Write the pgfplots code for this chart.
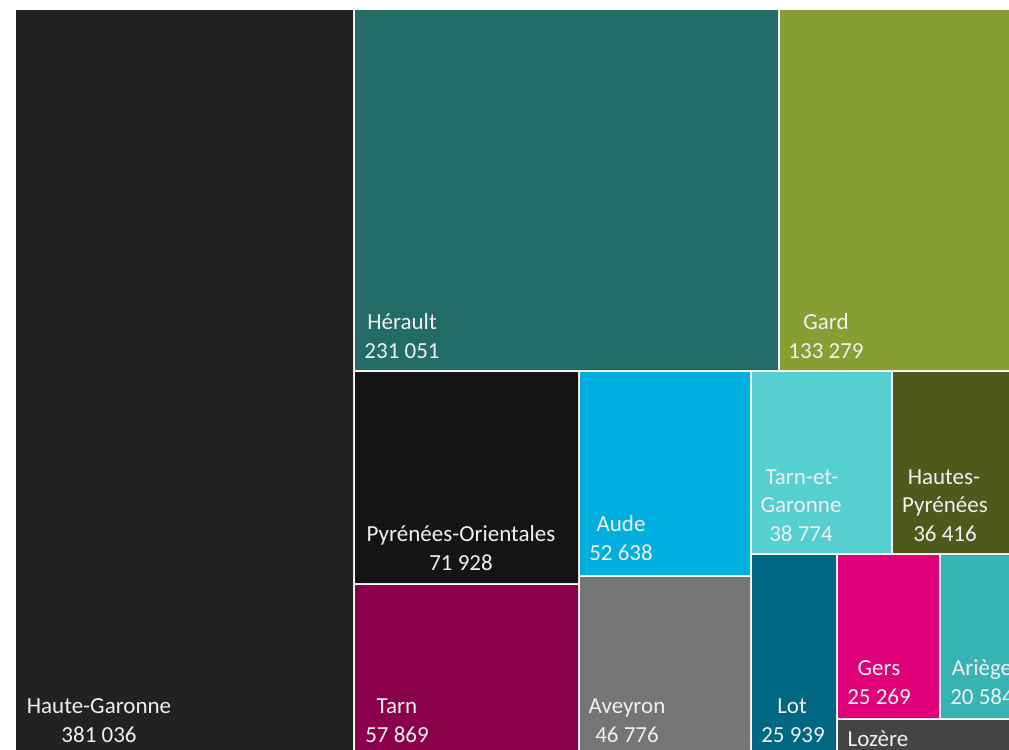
\documentclass[border=0pt]{standalone}
\usepackage{fontspec}
\setmainfont{Carlito}
\usepackage{pgfplots}
\pgfplotsset{compat=1.18}
\definecolor{cHG}{HTML}{222222}
\definecolor{cHE}{HTML}{236B66}
\definecolor{cGA}{HTML}{869E32}
\definecolor{cPO}{HTML}{141414}
\definecolor{cAU}{HTML}{00AEE0}
\definecolor{cTG}{HTML}{55CFCF}
\definecolor{cHP}{HTML}{4E5A1C}
\definecolor{cTA}{HTML}{8A004A}
\definecolor{cAV}{HTML}{757575}
\definecolor{cLO}{HTML}{006782}
\definecolor{cGE}{HTML}{E2007A}
\definecolor{cAR}{HTML}{37B3B3}
\definecolor{cLZ}{HTML}{444444}
\newcommand{\lab}[3]{\node[anchor=base, inner sep=0pt, text=white!94!black,
  font=\fontsize{11.5}{14}\selectfont] at (axis cs:#1,#2) {#3};}

\begin{document}
\begin{tikzpicture}
\begin{axis}[
  scale only axis, width=504.5pt, height=375pt,
  xmin=0, xmax=1009, ymin=0, ymax=750, y dir=reverse,
  hide axis,
  every axis plot/.append style={draw=none},
]
% background
\addplot[fill=white] coordinates {(0,0) (1009,0) (1009,750) (0,750) (0,0)};
% rectangles (pixel positions of the treemap tiles)
\addplot[fill=cHG] coordinates {(16,10) (353,10) (353,750) (16,750) (16,10)};
\addplot[fill=cHE] coordinates {(355,10) (778,10) (778,370) (355,370) (355,10)};
\addplot[fill=cGA] coordinates {(780,10) (1009,10) (1009,370) (780,370) (780,10)};
\addplot[fill=cPO] coordinates {(355,372) (578,372) (578,583) (355,583) (355,372)};
\addplot[fill=cAU] coordinates {(580,372) (750,372) (750,575) (580,575) (580,372)};
\addplot[fill=cTG] coordinates {(752,372) (891,372) (891,553) (752,553) (752,372)};
\addplot[fill=cHP] coordinates {(893,372) (1009,372) (1009,553) (893,553) (893,372)};
\addplot[fill=cTA] coordinates {(355,585) (578,585) (578,750) (355,750) (355,585)};
\addplot[fill=cAV] coordinates {(580,577) (750,577) (750,750) (580,750) (580,577)};
\addplot[fill=cLO] coordinates {(752,555) (836,555) (836,750) (752,750) (752,555)};
\addplot[fill=cGE] coordinates {(838,555) (939,555) (939,718) (838,718) (838,555)};
\addplot[fill=cAR] coordinates {(941,555) (1009,555) (1009,718) (941,718) (941,555)};
\addplot[fill=cLZ] coordinates {(838,720) (1009,720) (1009,750) (838,750) (838,720)};

\lab{99}{713}{Haute-Garonne}
\lab{99}{742}{381 036}
\lab{402}{329}{Hérault}
\lab{402}{358}{231 051}
\lab{826}{329}{Gard}
\lab{826}{358}{133 279}
\lab{461}{541}{Pyrénées-Orientales}
\lab{461}{570}{71 928}
\lab{621}{531}{Aude}
\lab{621}{560}{52 638}
\lab{802}{484}{Tarn-et-}
\lab{801}{512}{Garonne}
\lab{801}{541}{38 774}
\lab{944}{484}{Hautes-}
\lab{945}{512}{Pyrénées}
\lab{945}{541}{36 416}
\lab{397}{713}{Tarn}
\lab{397}{742}{57 869}
\lab{627}{713}{Aveyron}
\lab{627}{742}{46 776}
\lab{792}{713}{Lot}
\lab{793}{742}{25 939}
\lab{879}{675}{Gers}
\lab{879}{704}{25 269}
\lab{982}{675}{Ariège}
\lab{982}{704}{20 584}
\lab{878}{746}{Lozère}

\coordinate (sw) at (axis cs:0,750);
\coordinate (ne) at (axis cs:1009,0);
\end{axis}
\pgfresetboundingbox
\path[use as bounding box] (sw) rectangle (ne);
\end{tikzpicture}
\end{document}
